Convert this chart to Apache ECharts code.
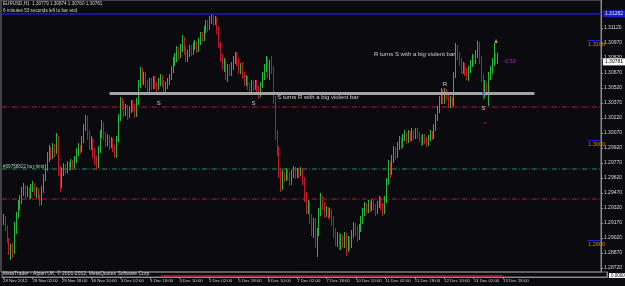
<!DOCTYPE html>
<html><head><meta charset="utf-8">
<script src="https://cdn.jsdelivr.net/npm/echarts@6/dist/echarts.min.js"></script>
<style>html,body{margin:0;padding:0;background:#0b0b0f;}#c{width:625px;height:286px;}</style>
</head><body><div id="c"></div>
<script>
// ---------- data ----------
const symbolName = 'EURUSD,H1';
const timerText = '6 minutes 53 seconds left to bar end';
const timeLabels = ['28 Nov 2012','29 Nov 02:00','29 Nov 18:00','30 Nov 10:00','3 Dec 02:00','3 Dec 18:00','4 Dec 10:00','5 Dec 02:00','5 Dec 18:00','6 Dec 10:00','7 Dec 02:00','7 Dec 18:00','10 Dec 10:00','11 Dec 02:00','11 Dec 18:00','12 Dec 10:00','13 Dec 02:00','13 Dec 18:00'];
const labelStep = 16;      // hourly bars between time labels
const slotCount = 329;     // visible bar slots incl. empty right margin
const priceTicks = [1.31120,1.30970,1.30820,1.30670,1.30520,1.30370,1.30220,1.30070,1.29920,1.29770,1.29620,1.29470,1.29320,1.29170,1.29020,1.28870,1.28720];
const priceMin = 1.2868, priceMax = 1.3140;

const opens = [
1.2927,1.2920,1.2922,1.2912,1.2900,1.2890,1.2893,1.2888,1.2915,1.2925,
1.2935,1.2940,1.2948,1.2952,1.2946,1.2950,1.2944,1.2952,1.2955,1.2948,
1.2950,1.2943,1.2937,1.2950,1.2962,1.2972,1.2982,1.2990,1.2984,1.2992,
1.2988,1.3002,1.2970,1.2955,1.2968,1.2972,1.2970,1.2975,1.2973,1.2977,
1.2974,1.2980,1.2988,1.2992,1.2990,1.3000,1.3012,1.3022,1.3005,1.2995,
1.3000,1.2988,1.2980,1.2975,1.2990,1.3005,1.3015,1.3005,1.2998,1.3002,
1.2995,1.3000,1.2992,1.2985,1.3000,1.3022,1.3040,1.3035,1.3028,1.3032,
1.3025,1.3030,1.3036,1.3032,1.3025,1.3038,1.3055,1.3068,1.3060,1.3064,
1.3056,1.3050,1.3058,1.3054,1.3060,1.3055,1.3052,1.3058,1.3062,1.3056,
1.3050,1.3054,1.3058,1.3062,1.3070,1.3078,1.3082,1.3090,1.3084,1.3092,
1.3100,1.3090,1.3082,1.3086,1.3092,1.3088,1.3094,1.3096,1.3090,1.3098,
1.3104,1.3102,1.3110,1.3116,1.3112,1.3120,1.3122,1.3118,1.3120,1.3110,
1.3095,1.3082,1.3074,1.3078,1.3066,1.3072,1.3068,1.3074,1.3080,1.3085,
1.3078,1.3070,1.3074,1.3065,1.3058,1.3061,1.3054,1.3052,1.3056,1.3053,
1.3057,1.3052,1.3045,1.3055,1.3064,1.3072,1.3080,1.3068,1.3076,1.3070,
1.3040,1.3005,1.2990,1.2968,1.2955,1.2965,1.2962,1.2968,1.2964,1.2958,
1.2966,1.2970,1.2965,1.2969,1.2966,1.2970,1.2960,1.2944,1.2930,1.2935,
1.2922,1.2910,1.2918,1.2900,1.2908,1.2928,1.2940,1.2934,1.2926,1.2930,
1.2924,1.2928,1.2920,1.2908,1.2900,1.2904,1.2896,1.2902,1.2898,1.2904,
1.2894,1.2900,1.2896,1.2906,1.2914,1.2910,1.2904,1.2912,1.2920,1.2928,
1.2934,1.2930,1.2936,1.2932,1.2937,1.2933,1.2928,1.2935,1.2940,1.2934,
1.2928,1.2940,1.2958,1.2975,1.2968,1.2980,1.2990,1.2985,1.2994,1.3000,
1.2995,1.3002,1.3005,1.3000,1.3006,1.3002,1.3007,1.3004,1.3009,1.3005,
1.3002,1.2998,1.3003,1.3000,1.2997,1.3002,1.3006,1.3004,1.3012,1.3022,
1.3030,1.3040,1.3048,1.3040,1.3048,1.3044,1.3036,1.3040,1.3036,1.3065,
1.3092,1.3085,1.3078,1.3070,1.3074,1.3068,1.3062,1.3070,1.3076,1.3082,
1.3078,1.3085,1.3095,1.3080,1.3062,1.3048,1.3055,1.3050,1.3065,1.3070,
1.3078,1.3085,1.30779];

const closes = [
1.2920,1.2922,1.2912,1.2900,1.2890,1.2893,1.2888,1.2915,1.2925,1.2935,
1.2940,1.2948,1.2952,1.2946,1.2950,1.2944,1.2952,1.2955,1.2948,1.2950,
1.2943,1.2937,1.2950,1.2962,1.2972,1.2982,1.2990,1.2984,1.2992,1.2988,
1.3002,1.2970,1.2955,1.2968,1.2972,1.2970,1.2975,1.2973,1.2977,1.2974,
1.2980,1.2988,1.2992,1.2990,1.3000,1.3012,1.3022,1.3005,1.2995,1.3000,
1.2988,1.2980,1.2975,1.2990,1.3005,1.3015,1.3005,1.2998,1.3002,1.2995,
1.3000,1.2992,1.2985,1.3000,1.3022,1.3040,1.3035,1.3028,1.3032,1.3025,
1.3030,1.3036,1.3032,1.3025,1.3038,1.3055,1.3068,1.3060,1.3064,1.3056,
1.3050,1.3058,1.3054,1.3060,1.3055,1.3052,1.3058,1.3062,1.3056,1.3050,
1.3054,1.3058,1.3062,1.3070,1.3078,1.3082,1.3090,1.3084,1.3092,1.3100,
1.3090,1.3082,1.3086,1.3092,1.3088,1.3094,1.3096,1.3090,1.3098,1.3104,
1.3102,1.3110,1.3116,1.3112,1.3120,1.3122,1.3118,1.3120,1.3110,1.3095,
1.3082,1.3074,1.3078,1.3066,1.3072,1.3068,1.3074,1.3080,1.3085,1.3078,
1.3070,1.3074,1.3065,1.3058,1.3061,1.3054,1.3052,1.3056,1.3053,1.3057,
1.3052,1.3045,1.3055,1.3064,1.3072,1.3080,1.3068,1.3076,1.3070,1.3040,
1.3005,1.2990,1.2968,1.2955,1.2965,1.2962,1.2968,1.2964,1.2958,1.2966,
1.2970,1.2965,1.2969,1.2966,1.2970,1.2960,1.2944,1.2930,1.2935,1.2922,
1.2910,1.2918,1.2900,1.2908,1.2928,1.2940,1.2934,1.2926,1.2930,1.2924,
1.2928,1.2920,1.2908,1.2900,1.2904,1.2896,1.2902,1.2898,1.2904,1.2894,
1.2900,1.2896,1.2906,1.2914,1.2910,1.2904,1.2912,1.2920,1.2928,1.2934,
1.2930,1.2936,1.2932,1.2937,1.2933,1.2928,1.2935,1.2940,1.2934,1.2928,
1.2940,1.2958,1.2975,1.2968,1.2980,1.2990,1.2985,1.2994,1.3000,1.2995,
1.3002,1.3005,1.3000,1.3006,1.3002,1.3007,1.3004,1.3009,1.3005,1.3002,
1.2998,1.3003,1.3000,1.2997,1.3002,1.3006,1.3004,1.3012,1.3022,1.3030,
1.3040,1.3048,1.3040,1.3048,1.3044,1.3036,1.3040,1.3036,1.3065,1.3092,
1.3085,1.3078,1.3070,1.3074,1.3068,1.3062,1.3070,1.3076,1.3082,1.3078,
1.3085,1.3095,1.3080,1.3062,1.3048,1.3055,1.3050,1.3065,1.3070,1.3078,
1.3085,1.30779,1.30781];

const highs = [
1.2930,1.2926,1.2924,1.2914,1.2902,1.2896,1.2897,1.2918,1.2928,1.2940,
1.2945,1.2953,1.2957,1.2955,1.2954,1.2952,1.2956,1.2959,1.2957,1.2953,
1.2952,1.2946,1.2954,1.2966,1.2976,1.2988,1.2995,1.2993,1.2997,1.2996,
1.3007,1.3004,1.2974,1.2972,1.2977,1.2976,1.2979,1.2978,1.2981,1.2980,
1.2984,1.2992,1.2997,1.2995,1.3004,1.3016,1.3025,1.3024,1.3010,1.3004,
1.3002,1.2992,1.2984,1.2994,1.3010,1.3020,1.3018,1.3008,1.3006,1.3005,
1.3003,1.3002,1.2995,1.3004,1.3026,1.3043,1.3042,1.3039,1.3036,1.3035,
1.3034,1.3040,1.3040,1.3036,1.3042,1.3060,1.3073,1.3072,1.3068,1.3068,
1.3060,1.3062,1.3062,1.3064,1.3064,1.3058,1.3062,1.3066,1.3065,1.3060,
1.3058,1.3062,1.3066,1.3074,1.3083,1.3087,1.3094,1.3093,1.3096,1.3105,
1.3103,1.3094,1.3090,1.3095,1.3095,1.3098,1.3100,1.3099,1.3102,1.3108,
1.3108,1.3114,1.3120,1.3120,1.3124,1.3126,1.3125,1.3124,1.3123,1.3114,
1.3098,1.3086,1.3082,1.3080,1.3076,1.3076,1.3078,1.3084,1.3088,1.3088,
1.3082,1.3077,1.3078,1.3068,1.3065,1.3064,1.3057,1.3060,1.3059,1.3060,
1.3060,1.3055,1.3058,1.3068,1.3076,1.3084,1.3083,1.3080,1.3084,1.3074,
1.3044,1.3010,1.2994,1.2972,1.2970,1.2968,1.2972,1.2971,1.2968,1.2970,
1.2974,1.2973,1.2972,1.2972,1.2973,1.2972,1.2963,1.2948,1.2940,1.2938,
1.2926,1.2922,1.2922,1.2912,1.2932,1.2947,1.2944,1.2938,1.2934,1.2933,
1.2932,1.2931,1.2924,1.2912,1.2908,1.2907,1.2906,1.2905,1.2908,1.2907,
1.2904,1.2903,1.2910,1.2918,1.2917,1.2914,1.2916,1.2924,1.2932,1.2938,
1.2937,1.2940,1.2939,1.2941,1.2940,1.2936,1.2939,1.2944,1.2943,1.2937,
1.2944,1.2962,1.2980,1.2978,1.2985,1.2994,1.2993,1.2998,1.3004,1.3003,
1.3006,1.3010,1.3008,1.3010,1.3009,1.3012,1.3010,1.3012,1.3012,1.3008,
1.3005,1.3006,1.3006,1.3003,1.3005,1.3010,1.3009,1.3016,1.3026,1.3034,
1.3044,1.3052,1.3051,1.3052,1.3051,1.3048,1.3044,1.3043,1.3068,1.3097,
1.3095,1.3088,1.3082,1.3078,1.3077,1.3072,1.3074,1.3080,1.3086,1.3085,
1.3090,1.3099,1.3098,1.3084,1.3066,1.3060,1.3058,1.3068,1.3074,1.3082,
1.3097,1.3087,1.30874];

const lows = [
1.2916,1.2915,1.2909,1.2897,1.2885,1.2880,1.2882,1.2886,1.2906,1.2922,
1.2930,1.2936,1.2944,1.2942,1.2943,1.2940,1.2941,1.2948,1.2944,1.2942,
1.2940,1.2934,1.2935,1.2947,1.2959,1.2969,1.2978,1.2980,1.2981,1.2983,
1.2986,1.2964,1.2948,1.2952,1.2964,1.2966,1.2967,1.2969,1.2970,1.2971,
1.2972,1.2977,1.2984,1.2986,1.2988,1.2997,1.3009,1.3000,1.2990,1.2990,
1.2982,1.2975,1.2970,1.2972,1.2987,1.3002,1.3000,1.2993,1.2994,1.2990,
1.2992,1.2988,1.2982,1.2982,1.2998,1.3019,1.3030,1.3023,1.3024,1.3020,
1.3022,1.3027,1.3028,1.3022,1.3023,1.3035,1.3052,1.3056,1.3055,1.3052,
1.3046,1.3048,1.3050,1.3051,1.3051,1.3048,1.3050,1.3054,1.3053,1.3047,
1.3046,1.3051,1.3055,1.3060,1.3067,1.3074,1.3078,1.3080,1.3082,1.3088,
1.3085,1.3078,1.3078,1.3083,1.3084,1.3085,1.3090,1.3087,1.3088,1.3095,
1.3098,1.3099,1.3107,1.3108,1.3110,1.3116,1.3114,1.3115,1.3106,1.3092,
1.3078,1.3070,1.3068,1.3060,1.3058,1.3064,1.3064,1.3070,1.3076,1.3074,
1.3066,1.3066,1.3061,1.3054,1.3054,1.3050,1.3047,1.3048,1.3049,1.3050,
1.3048,1.3041,1.3043,1.3052,1.3060,1.3068,1.3062,1.3060,1.3066,1.3036,
1.3000,1.2984,1.2962,1.2948,1.2950,1.2958,1.2959,1.2960,1.2954,1.2955,
1.2962,1.2961,1.2962,1.2962,1.2964,1.2955,1.2938,1.2926,1.2926,1.2916,
1.2904,1.2902,1.2892,1.2883,1.2904,1.2924,1.2930,1.2922,1.2923,1.2921,
1.2922,1.2914,1.2902,1.2894,1.2893,1.2890,1.2890,1.2892,1.2892,1.2884,
1.2888,1.2890,1.2892,1.2902,1.2904,1.2898,1.2900,1.2908,1.2916,1.2924,
1.2926,1.2927,1.2928,1.2929,1.2930,1.2924,1.2926,1.2932,1.2930,1.2924,
1.2926,1.2937,1.2955,1.2962,1.2965,1.2977,1.2980,1.2982,1.2990,1.2991,
1.2992,1.2999,1.2996,1.2997,1.2998,1.2999,1.3000,1.3001,1.3001,1.2998,
1.2994,1.2995,1.2996,1.2993,1.2994,1.2999,1.3000,1.3001,1.3009,1.3019,
1.3027,1.3036,1.3036,1.3036,1.3040,1.3032,1.3032,1.3032,1.3034,1.3062,
1.3080,1.3074,1.3066,1.3066,1.3064,1.3060,1.3059,1.3067,1.3073,1.3074,
1.3076,1.3082,1.3076,1.3058,1.3040,1.3042,1.3044,1.3034,1.3060,1.3066,
1.3074,1.3076,1.30760];

// horizontal objects on the chart (price levels)
const upperLevel = 1.31262;                 // blue line
const pendingLevels = [1.3033, 1.2941];     // red dash-dot lines
const buyLimitLevel = 1.2971;               // green dash-dot line
const buyLimitText = '#39758822 buy limit';
const roundLevels = [1.3100, 1.3000, 1.2900];
const trendLine = {from: 59, to: 292, price: 1.3047};  // grey S/R line (bar index, price)
// text notes: [bar index, price, text, align]
const notes = [
  [86, 1.3037, 'S', 'c'], [138, 1.3037, 'S', 'c'],
  [151, 1.3043, 'S turns R with a big violent bar', 'l'],
  [204, 1.3086, 'R turns S with a big violent bar', 'l'],
  [243, 1.3056, 'R', 'c'], [264, 1.3032, 'S', 'c']
];
const profitNote = [275, 1.3079, '-0.53'];
const footerText = 'MetaTrader - Alpari UK, \u00a9 2001-2012, MetaQuotes Software Corp.';
const subLine = {from: 86, to: 272, value: 0.3};   // indicator trace in the lower pane
const subValueText = '0.0000';

// ---------- build ----------
const last = opens.length - 1;
const isLabelIdx = i => i % labelStep === 0 && i / labelStep < timeLabels.length;
const cats = [];
for (let i = 0; i < slotCount; i++) cats.push(isLabelIdx(i) ? timeLabels[i / labelStep] : 'b' + i);
const candles = opens.map((o, i) => [o, closes[i], lows[i], highs[i]]);
const f5 = v => v.toFixed(5);
const FONT = 'Liberation Sans';

// dash-dot level lines drawn as two-point line series across the pane
const levelSeries = (v, color) => ({
  type: 'line', xAxisIndex: 0, yAxisIndex: 0, silent: true, symbol: 'none', z: 1,
  data: [[0, v], [slotCount - 1, v]],
  lineStyle: {color: color, width: 1, type: [5, 2, 1, 2], opacity: 1},
  itemStyle: {color: color}, emphasis: {disabled: true}
});

const markLines = [
  {yAxis: upperLevel, lineStyle: {color: '#1a1ad0', width: 1.5, type: 'solid'},
   label: {show: true, position: 'end', distance: 2, formatter: f5(upperLevel), backgroundColor: '#1a1ad0', color: '#e8e8ff', fontSize: 5, fontFamily: FONT, padding: [1, 2]}},
  {yAxis: closes[last], lineStyle: {color: 'rgba(0,0,0,0)', width: 0},
   label: {show: true, position: 'end', distance: 2, formatter: f5(closes[last]), backgroundColor: '#ffffff', color: '#000000', fontSize: 5, fontFamily: FONT, padding: [1, 2]}},
  [{coord: [trendLine.from, trendLine.price], lineStyle: {color: '#a4a4a4', width: 3, type: 'solid'}, label: {show: false}},
   {coord: [trendLine.to, trendLine.price]}],
  ...roundLevels.map(v => [
    {coord: [slotCount - 8, v], name: v.toFixed(4), lineStyle: {color: '#2222dd', width: 1, type: 'solid'},
     label: {show: true, position: 'insideEndBottom', distance: 1, offset: [6, 0], formatter: '{b}', color: '#d08a10', fontSize: 5.5, fontFamily: FONT}},
    {coord: [slotCount - 1, v]}
  ])
];

const markPoints = notes.map(n => ({
  coord: [n[0], n[1]], name: n[2], symbol: 'circle', symbolSize: 0,
  label: {show: true, formatter: '{b}', position: n[3] === 'c' ? 'inside' : 'right', distance: 0,
          color: '#cfcfcf', fontSize: 6, fontFamily: FONT}
}));
markPoints.push({coord: [profitNote[0], profitNote[1]], name: profitNote[2], symbol: 'circle', symbolSize: 0,
  label: {show: true, formatter: '{b}', position: 'right', distance: 0, color: '#b02cb8', fontSize: 5.5, fontFamily: FONT}});
markPoints.push({coord: [264, trendLine.price], symbol: 'circle', symbolSize: 3, itemStyle: {color: '#3a5cff'}, label: {show: false}});
markPoints.push({coord: [265, 1.3017], symbol: 'rect', symbolSize: [3, 1], itemStyle: {color: '#c8143c'}, label: {show: false}});
markPoints.push({coord: [271, 1.3099], symbol: 'triangle', symbolSize: [3, 4], itemStyle: {color: '#e0a24a'}, label: {show: false}});

const chart = echarts.init(document.getElementById('c'));
chart.setOption({
  animation: false,
  backgroundColor: '#0b0b0f',
  textStyle: {fontFamily: FONT},
  grid: [
    {left: 1, top: 0, width: 606, height: 272, show: true, borderColor: '#7c7c7c', borderWidth: 1, containLabel: false},
    {left: 1, top: 272, width: 606, height: 5, show: true, borderColor: '#7c7c7c', borderWidth: 1, containLabel: false}
  ],
  xAxis: [
    {type: 'category', gridIndex: 0, data: cats, boundaryGap: true, axisLine: {show: false}, axisTick: {show: false}, axisLabel: {show: false}, splitLine: {show: false}},
    {type: 'category', gridIndex: 1, data: cats, boundaryGap: true,
     axisLine: {show: true, lineStyle: {color: '#8a8a8a'}},
     axisTick: {show: true, interval: (i) => isLabelIdx(i), alignWithLabel: true, length: 2, lineStyle: {color: '#9a9a9a'}},
     axisLabel: {show: true, interval: (i) => isLabelIdx(i), formatter: (v, i) => isLabelIdx(i) ? v : '', align: 'left', margin: 2,
                 color: '#d0d0d0', fontSize: 4.3, fontFamily: FONT},
     splitLine: {show: false}}
  ],
  yAxis: [
    {type: 'value', gridIndex: 0, position: 'right', min: priceMin, max: priceMax, scale: true,
     axisLine: {show: true, lineStyle: {color: '#8a8a8a'}},
     axisTick: {show: true, customValues: priceTicks, length: 2, lineStyle: {color: '#9a9a9a'}},
     axisLabel: {show: true, customValues: priceTicks, formatter: v => f5(v), margin: 3, color: '#d8d8d8', fontSize: 5, fontFamily: FONT},
     splitLine: {show: false}},
    {type: 'value', gridIndex: 1, position: 'right', min: 0, max: 1,
     axisLine: {show: true, lineStyle: {color: '#8a8a8a'}}, axisTick: {show: false}, axisLabel: {show: false}, splitLine: {show: false}}
  ],
  series: [
    ...pendingLevels.map(v => levelSeries(v, '#c8143c')),
    levelSeries(buyLimitLevel, '#1f9a5c'),
    {
    type: 'candlestick', xAxisIndex: 0, yAxisIndex: 0, data: candles, z: 2,
    barWidth: 1.2,
    itemStyle: {color: '#1fba3c', color0: '#c4162a', borderColor: '#1fba3c', borderColor0: '#c4162a', borderWidth: 1},
    markLine: {symbol: 'none', silent: true, animation: false, precision: 6, data: markLines},
    markPoint: {silent: true, animation: false, data: markPoints}
  }, {
    type: 'line', xAxisIndex: 1, yAxisIndex: 1, data: [], silent: true,
    markLine: {symbol: 'none', silent: true, animation: false, precision: 6,
      data: [[{coord: [subLine.from, subLine.value], lineStyle: {color: '#c8143c', width: 1.5, type: 'solid'}, label: {show: false}},
              {coord: [subLine.to, subLine.value]}]]}
  }],
  graphic: [
    {type: 'text', left: 3, top: 1, silent: true,
     style: {text: symbolName + '  ' + [opens[last], highs[last], lows[last], closes[last]].map(f5).join(' '), fill: '#d4d4d4', fontSize: 4.6, fontFamily: FONT}},
    {type: 'text', left: 3, top: 8, silent: true, style: {text: timerText, fill: '#d4d4d4', fontSize: 4.6, fontFamily: FONT}},
    {type: 'text', left: 3, top: 164, silent: true, style: {text: buyLimitText, fill: '#b8c8b8', fontSize: 4.6, fontFamily: FONT}},
    {type: 'text', left: 3, top: 271, silent: true, style: {text: footerText, fill: '#d8d8d8', fontSize: 5, fontFamily: FONT}},
    {type: 'text', left: 609, top: 273, silent: true, style: {text: subValueText, fill: '#000000', backgroundColor: '#ffffff', padding: [0, 2], fontSize: 4.5, fontFamily: FONT}}
  ]
});
</script>
</body></html>
